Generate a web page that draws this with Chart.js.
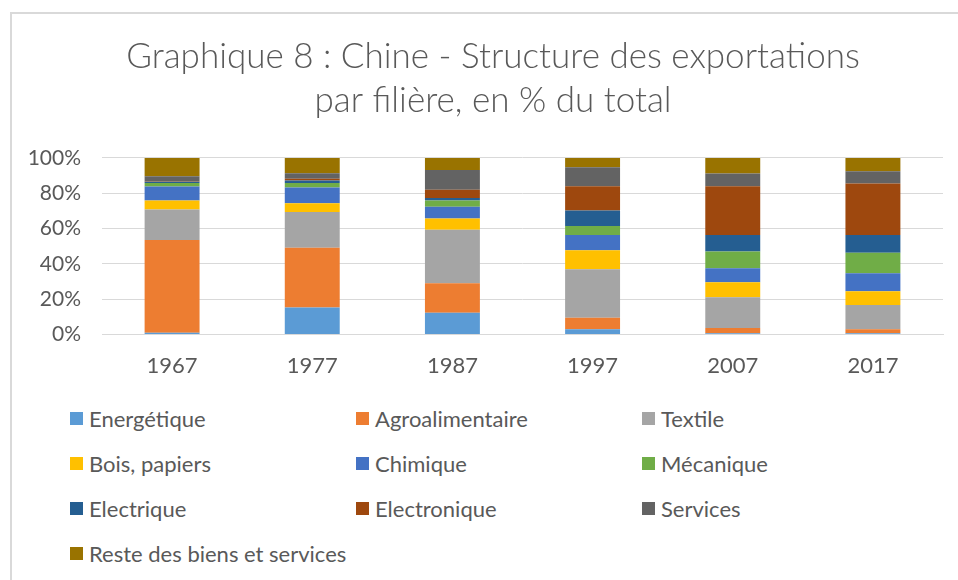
<!DOCTYPE html>
<html lang="fr">
<head>
    <meta charset="UTF-8">
    <title>Chine - Structure des exportations</title>
    <script src="https://cdn.jsdelivr.net/npm/chart.js"></script>
    <style>
        body {
            margin: 0;
            background: #ffffff;
        }

        #wrap {
            position: relative;
            width: 958px;
            height: 580px;
            overflow: hidden;
            font-family: Lato, "Open Sans", sans-serif;
        }

        #frame {
            position: absolute;
            left: 10px;
            top: 12px;
            width: 1000px;
            height: 700px;
            border: 2px solid #d9d9d9;
        }

        #chartBox {
            position: absolute;
            left: 0;
            top: 0;
            width: 958px;
            height: 397px;
        }

        #legend {
            position: absolute;
            left: 70px;
            top: 405px;
            display: grid;
            grid-template-columns: 286px 286px 286px;
            grid-auto-rows: 45.3px;
        }

        .item {
            display: flex;
            align-items: center;
            height: 26px;
            font-size: 22px;
            color: #595959;
            white-space: nowrap;
        }

        .swatch {
            width: 13px;
            height: 13px;
            margin-right: 6px;
        }
    </style>
</head>

<body>
    <div id="wrap">
        <div id="frame"></div>
        <div id="chartBox"><canvas id="myChart"></canvas></div>
        <div id="legend"></div>
    </div>
    <script>
        // values, % of total exports
        const years = ['1967', '1977', '1987', '1997', '2007', '2017'];
        const energetique = [1.0, 15.4, 12.4, 3.0, 0.8, 0.8];
        const agroalimentaire = [52.6, 33.8, 16.7, 6.6, 3.0, 2.2];
        const textile = [17.3, 20.2, 30.3, 27.4, 17.3, 13.7];
        const boisPapiers = [5.0, 5.0, 6.4, 10.7, 8.6, 7.9];
        const chimique = [7.9, 8.9, 6.6, 8.7, 7.9, 10.2];
        const mecanique = [2.1, 2.6, 3.5, 5.1, 9.4, 11.6];
        const electrique = [0.6, 1.3, 1.5, 8.8, 9.4, 10.0];
        const electronique = [0.3, 1.1, 4.6, 13.7, 27.6, 29.1];
        const services = [2.9, 3.1, 11.2, 10.7, 7.2, 7.0];
        const reste = [10.3, 8.6, 6.8, 5.3, 8.8, 7.5];
        const yTicks = [0, 20, 40, 60, 80, 100];

        const series = [
            ['Energétique', energetique, '#5B9BD5'],
            ['Agroalimentaire', agroalimentaire, '#ED7D31'],
            ['Textile', textile, '#A5A5A5'],
            ['Bois, papiers', boisPapiers, '#FFC000'],
            ['Chimique', chimique, '#4472C4'],
            ['Mécanique', mecanique, '#70AD47'],
            ['Electrique', electrique, '#255E91'],
            ['Electronique', electronique, '#9E480E'],
            ['Services', services, '#636363'],
            ['Reste des biens et services', reste, '#997300']
        ];

        // the original title sits a bit right of the canvas centre
        const shiftTitle = {
            id: 'shiftTitle',
            afterLayout: chart => {
                if (chart.titleBlock) chart.titleBlock.left = 43;
            }
        };

        const ctx = document.getElementById('myChart').getContext('2d');

        const myChart = new Chart(ctx, {
            type: 'bar',
            data: {
                labels: years,
                datasets: series.map(s => ({
                    label: s[0],
                    data: s[1],
                    backgroundColor: s[2],
                    borderWidth: 0,
                    categoryPercentage: 1,
                    barPercentage: 0.392
                }))
            },
            plugins: [shiftTitle],
            options: {
                responsive: true,
                maintainAspectRatio: false,
                animation: false,
                layout: {
                    padding: { left: 0, right: 15, top: 0, bottom: 0 }
                },
                plugins: {
                    legend: { display: false },
                    tooltip: { enabled: false },
                    title: {
                        display: true,
                        text: ['Graphique 8 : Chine - Structure des exportations', 'par filière, en % du total'],
                        color: '#595959',
                        font: { family: 'Lato', size: 35, weight: 300, lineHeight: 1.257 },
                        padding: { top: 35, bottom: 35 }
                    }
                },
                scales: {
                    x: {
                        stacked: true,
                        grid: { display: false, drawTicks: false },
                        border: { display: true, color: '#d9d9d9' },
                        ticks: {
                            color: '#595959',
                            font: { family: 'Lato', size: 22 },
                            padding: 18
                        }
                    },
                    y: {
                        stacked: true,
                        min: 0,
                        max: 100,
                        afterBuildTicks: scale => {
                            scale.ticks = yTicks.map(v => ({ value: v }));
                        },
                        afterFit: scale => {
                            scale.width = 102;
                        },
                        grid: { color: '#d9d9d9', drawTicks: false },
                        border: { display: false },
                        ticks: {
                            color: '#595959',
                            font: { family: 'Lato', size: 21 },
                            padding: 21,
                            callback: v => v + '%'
                        }
                    }
                }
            }
        });

        // legend in three fixed columns, like the original
        const legendBox = document.getElementById('legend');
        myChart.data.datasets.forEach(ds => {
            const item = document.createElement('div');
            item.className = 'item';
            const sw = document.createElement('span');
            sw.className = 'swatch';
            sw.style.background = ds.backgroundColor;
            item.appendChild(sw);
            item.appendChild(document.createTextNode(ds.label));
            legendBox.appendChild(item);
        });
    </script>
</body>

</html>
